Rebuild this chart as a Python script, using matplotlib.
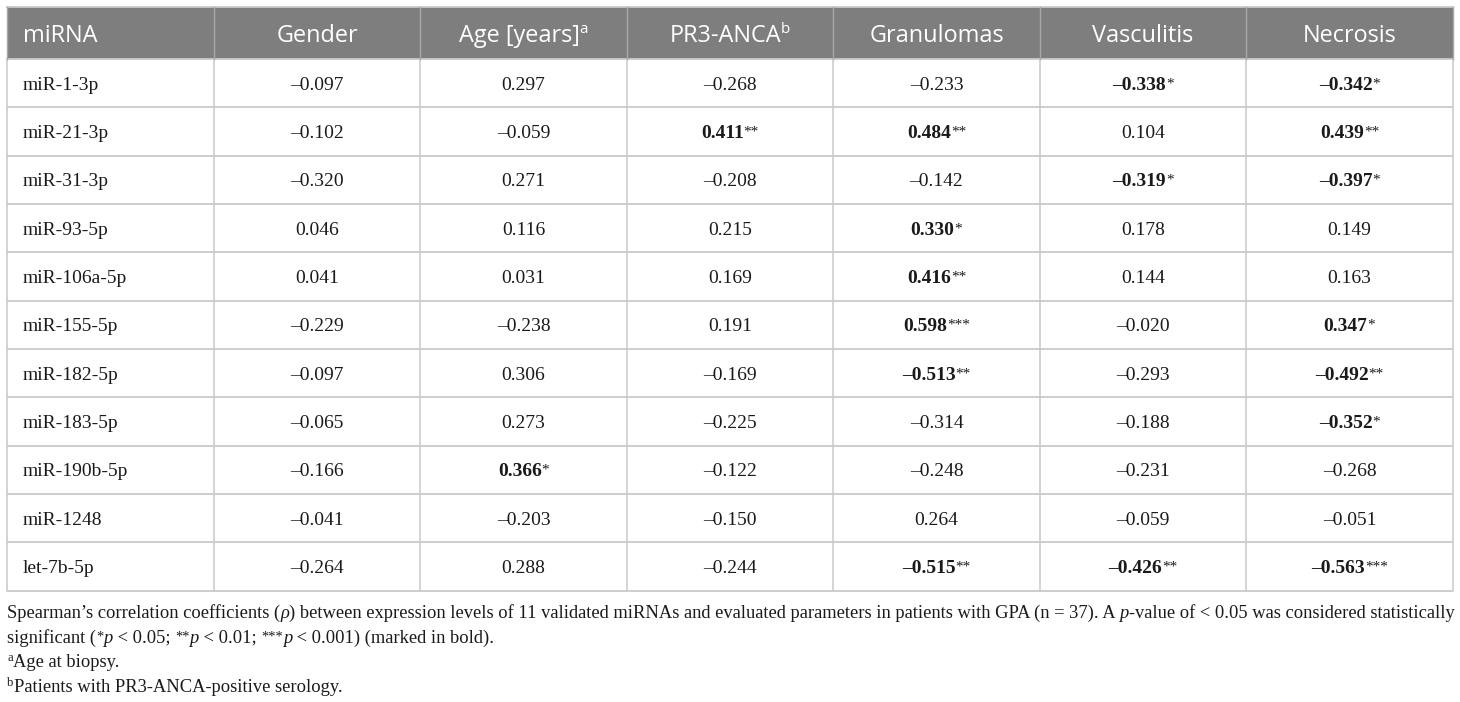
import matplotlib
matplotlib.use("Agg")
import matplotlib.pyplot as plt
from matplotlib.patches import Rectangle

# ---------------- data ----------------
columns = ["miRNA", "Gender", "Age [years]", "PR3-ANCA", "Granulomas", "Vasculitis", "Necrosis"]
column_sup = ["", "", "a", "b", "", "", ""]
mirnas = ["miR-1-3p", "miR-21-3p", "miR-31-3p", "miR-93-5p", "miR-106a-5p", "miR-155-5p",
          "miR-182-5p", "miR-183-5p", "miR-190b-5p", "miR-1248", "let-7b-5p"]
gender = [-0.097, -0.102, -0.320, 0.046, 0.041, -0.229, -0.097, -0.065, -0.166, -0.041, -0.264]
age = [0.297, -0.059, 0.271, 0.116, 0.031, -0.238, 0.306, 0.273, 0.366, -0.203, 0.288]
pr3_anca = [-0.268, 0.411, -0.208, 0.215, 0.169, 0.191, -0.169, -0.225, -0.122, -0.150, -0.244]
granulomas = [-0.233, 0.484, -0.142, 0.330, 0.416, 0.598, -0.513, -0.314, -0.248, 0.264, -0.515]
vasculitis = [-0.338, 0.104, -0.319, 0.178, 0.144, -0.020, -0.293, -0.188, -0.231, -0.059, -0.426]
necrosis = [-0.342, 0.439, -0.397, 0.149, 0.163, 0.347, -0.492, -0.352, -0.268, -0.051, -0.563]
gender_sig = ["", "", "", "", "", "", "", "", "", "", ""]
age_sig = ["", "", "", "", "", "", "", "", "*", "", ""]
pr3_anca_sig = ["", "**", "", "", "", "", "", "", "", "", ""]
granulomas_sig = ["", "**", "", "*", "**", "***", "**", "", "", "", "**"]
vasculitis_sig = ["*", "", "*", "", "", "", "", "", "", "", "**"]
necrosis_sig = ["*", "**", "*", "", "", "*", "**", "*", "", "", "***"]

value_cols = [gender, age, pr3_anca, granulomas, vasculitis, necrosis]
sig_cols = [gender_sig, age_sig, pr3_anca_sig, granulomas_sig, vasculitis_sig, necrosis_sig]

# ---------------- figure ----------------
W, H = 1460, 702
fig = plt.figure(figsize=(W / 100, H / 100), dpi=100)
ax = fig.add_axes([0, 0, 1, 1])
ax.set_xlim(0, W)
ax.set_ylim(H, 0)
ax.axis("off")
renderer = fig.canvas.get_renderer()

PX = 72 / 100  # points per pixel
SANS = "Open Sans"
SERIF = "Liberation Serif"


def measure(s, **kw):
    t1 = ax.text(0, 0, s + "|", **kw)
    w1 = t1.get_window_extent(renderer).width
    t1.remove()
    t2 = ax.text(0, 0, "|", **kw)
    w2 = t2.get_window_extent(renderer).width
    t2.remove()
    return w1 - w2


def draw_runs(x, y, runs, ha="left"):
    widths = [measure(t, **p) for t, p, dy in runs]
    total = sum(widths)
    if ha == "center":
        x -= total / 2
    for (t, p, dy), w in zip(runs, widths):
        ax.text(x, y + dy, t, va="baseline", ha="left", **p)
        x += w
    return total


def fmt(v):
    s = f"{abs(v):.3f}"
    return ("\u2013" + s) if v < 0 else s


# geometry
x0, x1 = 7.3, 1452.7
ncol = len(columns)
cw = (x1 - x0) / ncol
edges = [x0 + i * cw for i in range(ncol + 1)]
y_top, y_head = 7.3, 59.0
nrow = len(mirnas)
rh = (590.5 - y_head) / nrow

head_bg = "#7e7e7e"
grid = "#c9c9c9"

ax.add_patch(Rectangle((x0, y_top), x1 - x0, y_head - y_top, facecolor=head_bg,
                       edgecolor="none", zorder=1))

# grid lines
for i in range(nrow + 1):
    y = y_head + i * rh
    ax.plot([x0, x1], [y, y], color=grid, lw=1.3, zorder=2, solid_capstyle="butt")
ax.plot([x0, x1], [y_top, y_top], color=grid, lw=1.3, zorder=2)
for i, xe in enumerate(edges):
    ax.plot([xe, xe], [y_head, y_head + nrow * rh], color=grid, lw=1.1, zorder=2)
    ax.plot([xe, xe], [y_top, y_head], color="#a8a8a8", lw=1.0, zorder=2)

# header
hfs = 23.5
hp = dict(fontsize=hfs * PX, family=SANS, color="white")
hsup = dict(fontsize=hfs * 0.65 * PX, family=SANS, color="white")
hbase = (y_top + y_head) / 2 + hfs * 0.714 / 2
for j, (name, sup) in enumerate(zip(columns, column_sup)):
    runs = [(name, hp, 0)]
    if sup:
        runs.append((sup, hsup, -hfs * 0.38))
    if j == 0:
        draw_runs(edges[0] + 15.5, hbase, runs)
    else:
        draw_runs((edges[j] + edges[j + 1]) / 2, hbase, runs, ha="center")

# body
bfs = 19.5
bp = dict(fontsize=bfs * PX, family=SERIF, color="#1a1a1a")
bpb = dict(fontsize=bfs * PX, family=SERIF, color="#1a1a1a", weight="bold")
bstar = dict(fontsize=bfs * 0.78 * PX, family=SERIF, color="#1a1a1a")
for i, name in enumerate(mirnas):
    yc = y_head + (i + 0.5) * rh
    base = yc + bfs * 0.676 / 2
    draw_runs(edges[0] + 15.5, base, [(name, bp, 0)])
    for j, (vals, sigs) in enumerate(zip(value_cols, sig_cols)):
        xc = (edges[j + 1] + edges[j + 2]) / 2
        if sigs[i]:
            runs = [(fmt(vals[i]), bpb, 0), (sigs[i], bstar, -bfs * 0.13)]
        else:
            runs = [(fmt(vals[i]), bp, 0)]
        draw_runs(xc, base, runs, ha="center")

# caption
def caption_runs(fs):
    n = dict(fontsize=fs * PX, family=SERIF, color="#1a1a1a")
    it = dict(fontsize=fs * PX, family=SERIF, color="#1a1a1a", style="italic")
    st = dict(fontsize=fs * 0.78 * PX, family=SERIF, color="#1a1a1a")
    sm = dict(fontsize=fs * 0.68 * PX, family=SERIF, color="#1a1a1a")
    up = -fs * 0.13
    l1 = [("Spearman\u2019s correlation coefficients (", n, 0), ("\u03c1", it, 0),
          (") between expression levels of 11 validated miRNAs and evaluated parameters "
           "in patients with GPA (n = 37). A ", n, 0), ("p", it, 0),
          ("-value of < 0.05 was considered statistically", n, 0)]
    l2 = [("significant (", n, 0), ("*", st, up), ("p", it, 0), (" < 0.05; ", n, 0),
          ("**", st, up), ("p", it, 0), (" < 0.01; ", n, 0), ("***", st, up), ("p", it, 0),
          (" < 0.001) (marked in bold).", n, 0)]
    l3 = [("a", sm, -fs * 0.32), ("Age at biopsy.", n, 0)]
    l4 = [("b", sm, -fs * 0.32), ("Patients with PR3-ANCA-positive serology.", n, 0)]
    return [l1, l2, l3, l4]

cfs = 18.0
natural = sum(measure(t, **p) for t, p, dy in caption_runs(cfs)[0])
cfs = cfs * (x1 - x0 - 1) / natural
for k, line in enumerate(caption_runs(cfs)):
    draw_runs(x0, 618 + k * 24.6, line)

fig.savefig("out.png", dpi=100, facecolor="white")
